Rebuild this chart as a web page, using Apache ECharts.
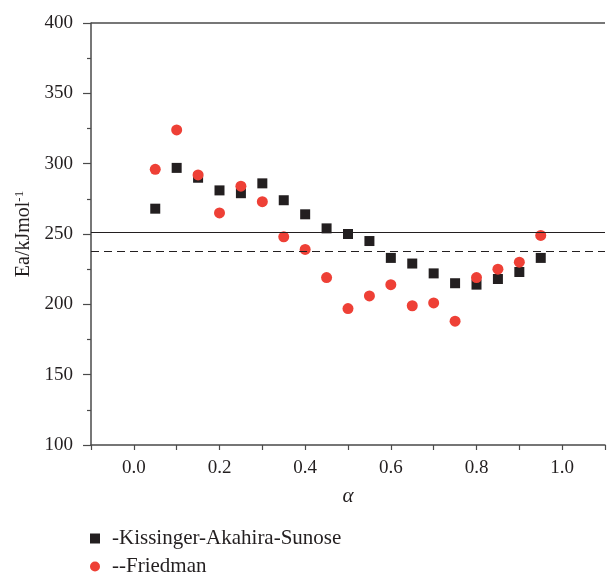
<!DOCTYPE html>
<html>
<head>
<meta charset="utf-8">
<script src="https://cdn.jsdelivr.net/npm/echarts@6/dist/echarts.min.js"></script>
<style>
html,body{margin:0;padding:0;background:#fff;}
#chart{width:608px;height:573px;}
</style>
</head>
<body>
<div id="chart"></div>
<script>
const alpha = [0.05,0.10,0.15,0.20,0.25,0.30,0.35,0.40,0.45,0.50,0.55,0.60,0.65,0.70,0.75,0.80,0.85,0.90,0.95];
const kas = [268,297,290,281,279,286,274,264,254,250,245,233,229,222,215,214,218,223,233];
const friedman = [296,324,292,265,284,273,248,239,219,197,206,214,199,201,188,219,225,230,249];
const seriesNames = ['-Kissinger-Akahira-Sunose','--Friedman'];
const frameTop = 400;
const solidLine = 251;
const dashedLine = 238;
const yTicks = [100,150,200,250,300,350,400];
const xTickLabels = ['0.0','0.2','0.4','0.6','0.8','1.0'];

const FONT = 'Liberation Serif';
const chart = echarts.init(document.getElementById('chart'), null, {renderer:'canvas'});
const toPairs = (xs, ys) => xs.map((x,i)=>[x, ys[i]]);

chart.setOption({
  animation:false,
  backgroundColor:'#fff',
  grid:{left:91, top:23, width:522, height:422, containLabel:false},
  xAxis:{
    type:'value', min:-0.1, max:1.1, interval:0.1,
    name:'α', nameLocation:'middle', nameGap:41,
    nameTextStyle:{fontFamily:FONT, fontSize:21, fontStyle:'italic', color:'#231f20'},
    axisLine:{show:true, onZero:false, lineStyle:{color:'#4a4a4a', width:1.5}},
    axisTick:{show:true, inside:false, length:5, lineStyle:{color:'#4a4a4a', width:1.2}},
    axisLabel:{
      margin:14, fontFamily:FONT, fontSize:19, color:'#231f20',
      formatter:function(v){
        const k = Math.round(v*10);
        if (k % 2 !== 0) return '';
        const s = (k/10).toFixed(1);
        return xTickLabels.indexOf(s) >= 0 ? s : '';
      }
    },
    splitLine:{show:false}
  },
  yAxis:{
    type:'value', min:yTicks[0], max:yTicks[yTicks.length-1], interval:50,
    name:'Ea/kJmol{sup|-1}', nameLocation:'middle', nameGap:56, nameRotate:90,
    nameTextStyle:{fontFamily:FONT, fontSize:20, color:'#231f20',
      rich:{sup:{fontFamily:FONT, fontSize:13, verticalAlign:'top', color:'#231f20', padding:[0,0,8,0]}}},
    axisLine:{show:true, onZero:false, lineStyle:{color:'#4a4a4a', width:1.5}},
    axisTick:{show:true, inside:false, length:8, lineStyle:{color:'#4a4a4a', width:1.2}},
    minorTick:{show:true, splitNumber:2, length:4, lineStyle:{color:'#4a4a4a', width:1.2}},
    axisLabel:{margin:18, fontFamily:FONT, fontSize:19, color:'#231f20'},
    splitLine:{show:false}
  },
  legend:{
    orient:'vertical', left:90, top:528, height:60, padding:0,
    itemWidth:10, itemHeight:10, itemGap:7,
    textStyle:{fontFamily:FONT, fontSize:21, color:'#231f20', lineHeight:18, padding:[0,0,0,7]},
    data:[{name:seriesNames[0], icon:'rect'},{name:seriesNames[1], icon:'circle'}]
  },
  series:[
    {
      name:seriesNames[0], type:'scatter', symbol:'rect', symbolSize:10,
      itemStyle:{color:'#231f20', opacity:1},
      data:toPairs(alpha, kas),
      markLine:{
        silent:true, symbol:'none', label:{show:false}, animation:false,
        data:[
          {yAxis:frameTop, lineStyle:{color:'#4a4a4a', width:1.5, type:'solid'}},
          {yAxis:solidLine, lineStyle:{color:'#231f20', width:1.2, type:'solid'}},
          {yAxis:dashedLine, lineStyle:{color:'#231f20', width:1.2, type:[8,5]}}
        ]
      }
    },
    {
      name:seriesNames[1], type:'scatter', symbol:'circle', symbolSize:11,
      itemStyle:{color:'#ee4036', opacity:1},
      data:toPairs(alpha, friedman)
    }
  ]
});
</script>
</body>
</html>
